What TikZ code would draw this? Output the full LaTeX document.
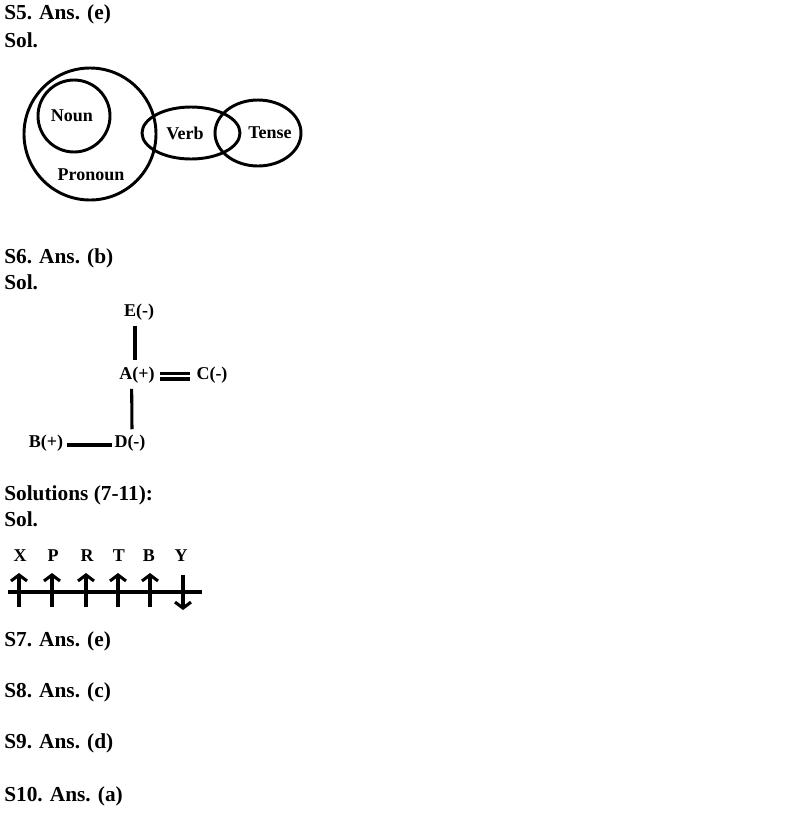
\documentclass[tikz,border=0pt]{standalone}
\usepackage{fontspec}
\setmainfont{Liberation Serif}
\usetikzlibrary{arrows.meta}

\tikzset{
  head/.style={anchor=mid west,inner sep=0,font=\fontsize{16}{19}\selectfont\bfseries},
  lbl/.style={inner sep=1pt,font=\fontsize{13.5}{16}\selectfont\bfseries},
  ring/.style={line width=2.2pt},
  bond/.style={line width=2.3pt},
  dir/.style={line width=2.3pt,-{Straight Barb[length=4.5pt,width=12pt,line width=2.3pt]}}
}

\begin{document}
\begin{tikzpicture}[x=0.75pt,y=0.75pt,yscale=-1]
\useasboundingbox (0,0) rectangle (797,815);

%Headings
\node[head] (s5) at (4,16) {S5. Ans. (e)};
\node[head] (sol5) at (4,44) {Sol.};
\node[head] (s6) at (4,260) {S6. Ans. (b)};
\node[head] (sol6) at (4,286) {Sol.};
\node[head] (sol711) at (4,497) {Solutions (7-11):};
\node[head] (sol7) at (4,523) {Sol.};
\node[head] (s7) at (4,643) {S7. Ans. (e)};
\node[head] (s8) at (4,694) {S8. Ans. (c)};
\node[head] (s9) at (4,745) {S9. Ans. (d)};
\node[head] (s10) at (4,798) {S10. Ans. (a)};

%Shape: Circle [Pronoun]
\draw [ring] (90,134) circle [radius=66];
%Shape: Circle [Noun]
\draw [ring] (74,116) circle [radius=36];
%Shape: Ellipse [Verb]
\draw [ring] (191,133) ellipse [x radius=49, y radius=26];
%Shape: Ellipse [Tense]
\draw [ring] (258,133) ellipse [x radius=43, y radius=33];
\node[lbl] (noun) at (72,116) {Noun};
\node[lbl] (pronoun) at (91,175) {Pronoun};
\node[lbl] (verb) at (185,133) {Verb};
\node[lbl] (tense) at (270,133) {Tense};

%Graph S6
\node[lbl] (e) at (139,312) {E(-)};
\node[lbl] (a) at (137,375) {A(+)};
\node[lbl] (c) at (212,375) {C(-)};
\node[lbl] (d) at (130,443) {D(-)};
\node[lbl] (b) at (46,443) {B(+)};
\draw [bond] ([xshift=-3pt,yshift=3pt]e.south) -- ([xshift=-1.5pt,yshift=-4pt]a.north);
\draw [bond] ([xshift=-4pt,yshift=3pt]a.south) -- ([xshift=1.5pt,yshift=-3pt]d.north);
\draw [bond] ([xshift=3pt,yshift=-1pt]a.east) -- ([xshift=-3.5pt,yshift=-1pt]c.west);
\draw [bond] ([xshift=3pt,yshift=3pt]a.east) -- ([xshift=-3.5pt,yshift=3pt]c.west);
\draw [bond] ([xshift=2pt,yshift=1.5pt]b.east) -- ([xshift=-0.5pt,yshift=1.5pt]d.west);

%Arrows 7-11
\draw [bond] (8,592) -- (202,592);
\foreach \nm/\px in {x/19,p/52,r/86,t/118,bb/150}{
  \coordinate (\nm0) at (\px,607);
  \coordinate (\nm1) at (\px,573);
  \draw [dir] (\nm0) -- (\nm1);
}
\coordinate (y0) at (183,575);
\coordinate (y1) at (183,610);
\draw [dir] (y0) -- (y1);
\node[lbl] (xl) at (20,556) {X};
\node[lbl] (pl) at (53,556) {P};
\node[lbl] (rl) at (87,556) {R};
\node[lbl] (tl) at (119,556) {T};
\node[lbl] (bl) at (149,556) {B};
\node[lbl] (yl) at (181,556) {Y};

\end{tikzpicture}
\end{document}
